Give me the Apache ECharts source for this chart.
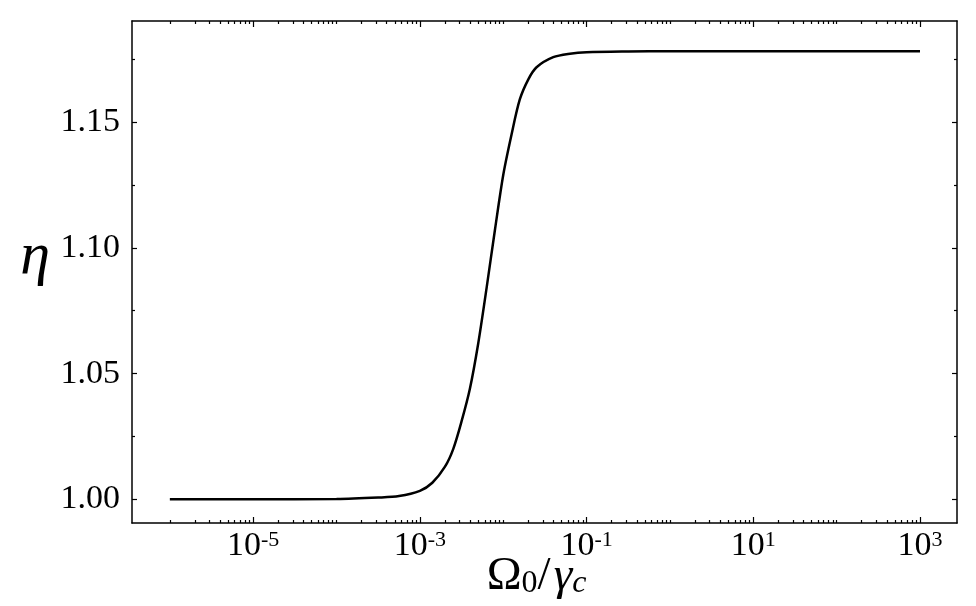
<!DOCTYPE html>
<html>
<head>
<meta charset="utf-8">
<script src="https://cdn.jsdelivr.net/npm/echarts@6/dist/echarts.min.js"></script>
<style>
  html, body { margin: 0; padding: 0; background: #fff; }
  #chart { width: 976px; height: 606px; }
</style>
</head>
<body>
<div id="chart"></div>
<script>
// x: Omega_0 / gamma_c (log scale), y: eta
var omega = [1e-6, 1e-5, 1e-4, 3.16e-4, 5.62e-4, 1e-3, 1.41e-3, 2e-3, 2.51e-3, 3.16e-3,
  3.98e-3, 5.01e-3, 6.31e-3, 7.94e-3, 1e-2, 1.26e-2, 1.58e-2, 2e-2, 2.51e-2,
  3.98e-2, 6.31e-2, 0.1, 0.316, 1, 10, 100, 1000];
var eta = [1.0000, 1.0000, 1.0001, 1.0007, 1.0013, 1.0034, 1.0066, 1.0130, 1.0200, 1.0310,
  1.0440, 1.0620, 1.0840, 1.1070, 1.1290, 1.1452, 1.1590, 1.1670, 1.1718,
  1.1758, 1.1772, 1.1778, 1.1781, 1.1782, 1.1782, 1.1782, 1.1782];

// tick positions
var xMajor = [1e-5, 1e-3, 1e-1, 1e1, 1e3];
var xDecades = [-6, -5, -4, -3, -2, -1, 0, 1, 2];
var xMult = [1, 2, 3, 4, 5, 6, 7, 8, 9];
var yMajor = [1.00, 1.05, 1.10, 1.15];
var yMinor = [1.025, 1.075, 1.125, 1.175];

var xMinor = [];
xDecades.forEach(function (n) {
  xMult.forEach(function (k) {
    if (k === 1 && Math.abs(n) % 2 === 1) return; // labelled decade
    xMinor.push(k * Math.pow(10, n));
  });
});

var xMin = Math.pow(10, -6.454), xMax = Math.pow(10, 3.444);
var yMin = 0.9906, yMax = 1.1902;
var serif = 'Liberation Serif';

function xAx(pos, ticks, len, line) {
  return {
    type: 'log', position: pos, min: xMin, max: xMax,
    axisLine: { show: line, lineStyle: { color: '#000', width: 1.5 } },
    axisTick: { show: true, inside: true, length: len, customValues: ticks,
      lineStyle: { color: '#000', width: 1.2 } },
    axisLabel: { show: false },
    splitLine: { show: false }, minorTick: { show: false }
  };
}
function yAx(pos, ticks, len, line) {
  return {
    type: 'value', position: pos, min: yMin, max: yMax,
    axisLine: { show: line, lineStyle: { color: '#000', width: 1.5 } },
    axisTick: { show: true, inside: true, length: len, customValues: ticks,
      lineStyle: { color: '#000', width: 1.2 } },
    axisLabel: { show: false },
    splitLine: { show: false }, minorTick: { show: false }
  };
}

var xBottom = xAx('bottom', xMajor, 6, true);
xBottom.axisLabel = {
  show: true, customValues: xMajor, margin: 6,
  formatter: function (v) {
    return '{b|10}{s|' + Math.round(Math.log10(v)) + '}';
  },
  rich: {
    b: { fontFamily: serif, fontSize: 34, color: '#000' },
    s: { fontFamily: serif, fontSize: 22, color: '#000', verticalAlign: 'top' }
  }
};
xBottom.name = '{o|Ω}{z|0}{o|/}{g|γ}{c|c}';
xBottom.nameLocation = 'middle';
xBottom.nameGap = 30;
xBottom.nameMoveOverlap = false;
xBottom.nameTextStyle = {
  padding: [0, 16, 0, 0],
  rich: {
    o: { fontFamily: serif, fontSize: 47, color: '#000' },
    z: { fontFamily: serif, fontSize: 32, color: '#000', verticalAlign: 'bottom' },
    g: { fontFamily: serif, fontSize: 47, fontStyle: 'italic', color: '#000', padding: [0, 0, 0, 3] },
    c: { fontFamily: serif, fontSize: 32, fontStyle: 'italic', color: '#000', verticalAlign: 'bottom' }
  }
};

var yLeft = yAx('left', yMajor, 5, true);
yLeft.axisLabel = {
  show: true, customValues: yMajor, margin: 12,
  fontFamily: serif, fontSize: 34, color: '#000',
  formatter: function (v) { return v.toFixed(2); }
};
yLeft.name = '{e|η}';
yLeft.nameLocation = 'middle';
yLeft.nameRotate = 0;
yLeft.nameGap = 82;
yLeft.nameMoveOverlap = false;
yLeft.nameTextStyle = {
  rich: {
    e: { fontFamily: serif, fontSize: 60, fontStyle: 'italic', color: '#000', padding: [0, 0, 30, 0] }
  }
};

var chart = echarts.init(document.getElementById('chart'));
chart.setOption({
  animation: false,
  backgroundColor: '#fff',
  grid: { left: 132, right: 19, top: 21, bottom: 83, containLabel: false, outerBoundsMode: 'none' },
  xAxis: [
    xBottom,
    xAx('bottom', xMinor, 3, false),
    xAx('top', xMajor, 6, true),
    xAx('top', xMinor, 3, false)
  ],
  yAxis: [
    yLeft,
    yAx('left', yMinor, 3, false),
    yAx('right', yMajor, 5, true),
    yAx('right', yMinor, 3, false)
  ],
  series: [{
    type: 'line',
    xAxisIndex: 0, yAxisIndex: 0,
    data: omega.map(function (x, i) { return [x, eta[i]]; }),
    showSymbol: false,
    smooth: 0.3,
    lineStyle: { color: '#000', width: 2.5 }
  }]
});
</script>
</body>
</html>
